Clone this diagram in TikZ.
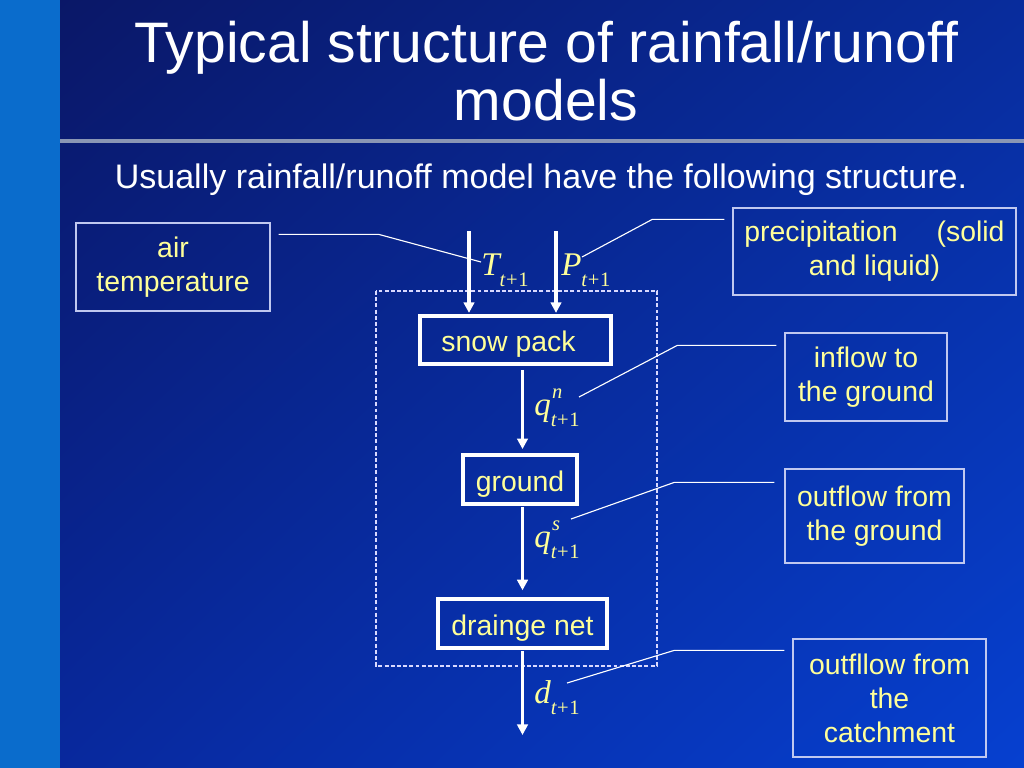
\documentclass[tikz,border=0pt]{standalone}
\usepackage{fontspec}
\setmainfont{Liberation Sans}
\newfontfamily\varserif{Liberation Serif}
\usepackage{tikz}
\usetikzlibrary{positioning,arrows.meta,calc,shadings}

\definecolor{slidedark}{HTML}{0A1664}
\definecolor{slidetopr}{HTML}{082C9C}
\definecolor{slidebotl}{HTML}{08279A}
\definecolor{slidebotr}{HTML}{0640D0}
\definecolor{slidestrip}{HTML}{0A6CCC}
\definecolor{slideline}{HTML}{8A96B4}
\definecolor{lbyellow}{HTML}{FFFF99}
\definecolor{boxedge}{HTML}{C0C8F0}

\newcommand{\boxtext}{\fontsize{20.2pt}{24.2pt}\selectfont}
\newcommand{\vbig}{\fontsize{23.5pt}{24pt}\selectfont\varserif}
\newcommand{\vsmall}{\fontsize{14.6pt}{15pt}\selectfont\varserif}
% variable with index t+1 and optional upper mark
\newcommand{\flowvar}[2]{{\vbig\itshape #1}\rlap{\raisebox{12pt}{\vsmall\itshape #2}}\raisebox{-8.5pt}{\vsmall{\itshape t}\kern0.5pt+\kern0.5pt1}}

\begin{document}
\begin{tikzpicture}[x=0.025cm, y=-0.025cm,
  bx/.style={draw=boxedge, line width=0.9pt, text=lbyellow, font=\boxtext,
             align=center, inner sep=2pt},
  st/.style={draw=white, line width=2.4pt, text=lbyellow, font=\boxtext,
             text height=21pt, text depth=4pt, inner sep=0pt},
  ar/.style={-{Triangle[length=7.5pt,width=7.5pt]}, white, line width=2.2pt},
  ld/.style={white, line width=0.8pt},
  vr/.style={anchor=base west, text=lbyellow, inner sep=0pt}
]
% slide background
\useasboundingbox (0,0) rectangle (1024,768);
\shade[upper left=slidedark, upper right=slidetopr, lower left=slidebotl,
       lower right=slidebotr] (0,0) rectangle (1024,768);
\fill[slidestrip] (0,0) rectangle (60,768);
\draw[slideline, line width=2.2pt] (60,141) -- (1024,141);

\node[text=white, font=\fontsize{40.6pt}{41.2pt}\selectfont, align=center] (title)
  at (546,71) {Typical structure of rainfall/runoff\\models};
\node[text=white, font=\fontsize{24.2pt}{26pt}\selectfont, anchor=base] (intro)
  at (541,189) {Usually rainfall/runoff model have the following structure.};

% model
\draw[white!85!blue, line width=0.8pt, dash pattern=on 2.8pt off 1.6pt]
  (376,291) rectangle (657,666);

\node[st, minimum width=4.775cm, minimum height=1.2cm] (snow) at (515.5,340) {snow pack\hspace*{10pt}};
\node[st, minimum width=2.85cm, minimum height=1.225cm] (ground) at (520,479.5) {ground};
\node[st, minimum width=4.225cm, minimum height=1.225cm] (drain) at (522.5,623.5) {drainge net};

\coordinate (tin) at (469,231);
\coordinate (pin) at (556,231);
\coordinate (dout) at (522.5,735);

\draw[ar, shorten >=1pt] (tin) -- (tin |- snow.north);
\draw[ar, shorten >=1pt] (pin) -- (pin |- snow.north);
\draw[ar, shorten <=3pt, shorten >=3pt] (snow.south -| drain) -- (ground.north -| drain);
\draw[ar, shorten <=1pt, shorten >=5pt] (ground.south -| drain) -- (drain.north);
\draw[ar, shorten <=1pt] (drain.south) -- (dout);

\node[vr] (Tv) at (481,275) {\flowvar{T}{}};
\node[vr] (Pv) at (561,275) {\flowvar{P}{}};
\node[vr] (qn) at (534,415) {\flowvar{q}{\kern1pt n}};
\node[vr] (qs) at (534,547) {\flowvar{q}{\kern1pt s}};
\node[vr] (dv) at (534,703) {\flowvar{d}{}};

% callouts
\node[bx, minimum width=4.85cm, minimum height=2.2cm] (air) at (173,267) {air\\temperature};
\node[bx, minimum width=7.075cm, minimum height=2.175cm] (prec) at (874.5,251.5)
  {\makebox[185pt]{precipitation\hfill(solid}\\and liquid)};
\node[bx, minimum width=4.05cm, minimum height=2.2cm] (infl) at (866,377) {inflow to\\the ground};
\node[bx, minimum width=4.475cm, minimum height=2.35cm] (outg) at (874.5,516) {outflow from\\the ground};
\node[bx, minimum width=4.825cm, minimum height=2.95cm] (outc) at (889.5,698) {outfllow from\\the\\catchment};

\draw[ld] ($(air.north east)+(8,12)$) -- ++(100,0) -- ($(Tv.base west)+(0,-13)$);
\draw[ld] ($(prec.north west)+(-8,12)$) -- ++(-72,0) -- ($(Pv.base west)+(21,-18)$);
\draw[ld] ($(infl.north west)+(-8,13)$) -- ++(-99,0) -- ($(qn.base west)+(45,-18)$);
\draw[ld] ($(outg.north west)+(-10,14)$) -- ++(-100,0) -- ($(qs.base west)+(37,-28)$);
\draw[ld] ($(outc.north west)+(-8,12)$) -- ++(-110,0) -- ($(dv.base west)+(33,-20)$);
\end{tikzpicture}
\end{document}
